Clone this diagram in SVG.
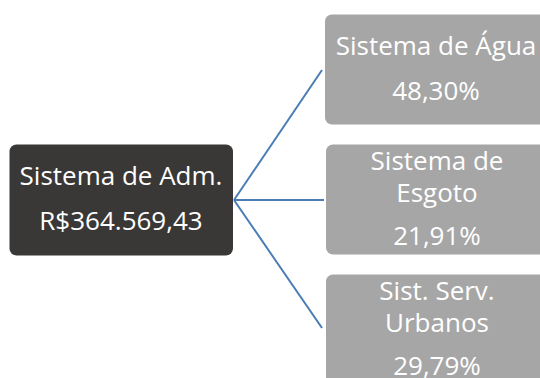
<svg xmlns="http://www.w3.org/2000/svg" width="540" height="378" viewBox="0 0 540 378">
<style>
.t{font-family:"Open Sans","Noto Sans","DejaVu Sans",sans-serif;font-size:26px;fill:#ffffff;text-anchor:middle}
.child{fill:#a6a6a6}
.root{fill:#3a3836}
.conn{stroke:#4a7db5;stroke-width:2;fill:none}
</style>
<rect width="540" height="378" fill="#ffffff"/>
<g id="connectors">
<line class="conn" x1="234" y1="200" x2="322" y2="70"/>
<line class="conn" x1="234" y1="200" x2="324" y2="200"/>
<line class="conn" x1="234" y1="200" x2="322" y2="328"/>
</g>
<g id="root">
<rect class="root" x="9.5" y="144.5" width="223.5" height="111" rx="7"/>
<text class="t" x="121" y="185">Sistema de Adm.</text>
<text class="t" x="121" y="230">R$364.569,43</text>
</g>
<g id="agua">
<rect class="child" x="325" y="14.5" width="222" height="110" rx="7"/>
<text class="t" x="436" y="55">Sistema de Água</text>
<text class="t" x="436" y="100">48,30%</text>
</g>
<g id="esgoto">
<rect class="child" x="326" y="144.5" width="222" height="110" rx="7"/>
<text class="t" x="437" y="170">Sistema de</text>
<text class="t" x="437" y="202">Esgoto</text>
<text class="t" x="437" y="245">21,91%</text>
</g>
<g id="urbanos">
<rect class="child" x="326" y="274.5" width="222" height="110" rx="7"/>
<text class="t" x="437" y="300">Sist. Serv.</text>
<text class="t" x="437" y="332">Urbanos</text>
<text class="t" x="437" y="375">29,79%</text>
</g>
</svg>
